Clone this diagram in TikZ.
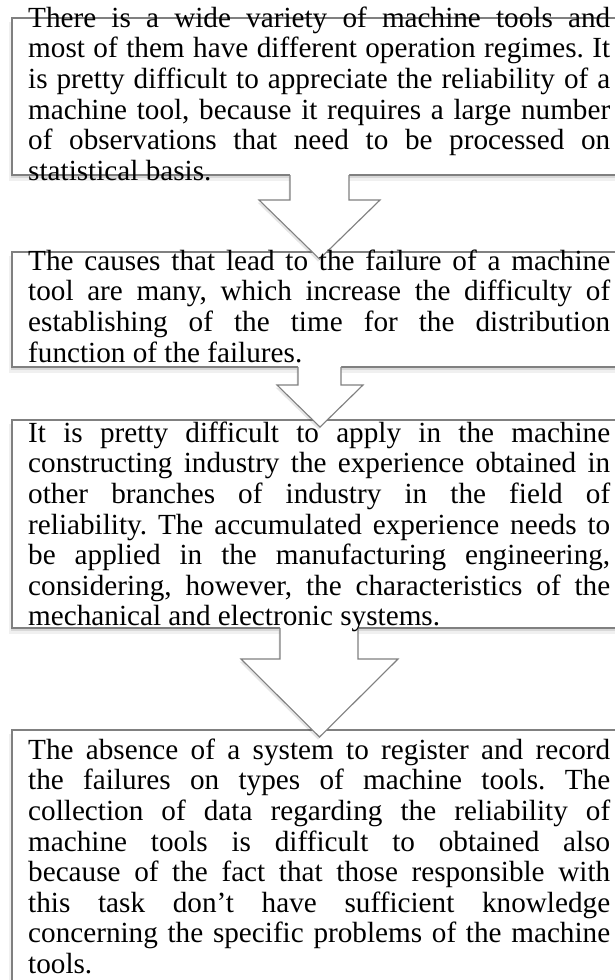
\documentclass[tikz,border=0pt]{standalone}
\usepackage{fontspec}
\setmainfont{Liberation Serif}[Ligatures=CommonOff]
\definecolor{edge}{RGB}{128,128,128}
\tikzset{
  boxline/.style={draw=edge, line width=1.1pt},
  txt/.style={anchor=north west, inner sep=0pt, text width=582pt, align=justify,
    font=\fontsize{29.2pt}{30.6pt}\selectfont},
}
\newcommand\settext{\frenchspacing\hyphenpenalty=10000\exhyphenpenalty=10000\tolerance=10000\strut}
\begin{document}
\begin{tikzpicture}[x=1pt,y=-1pt]
\useasboundingbox (0,0) rectangle (615,980);
\clip (0,0) rectangle (615,980);

% boxes (open to the right, beyond the page)
\foreach \t/\b in {18/175, 252/367, 420/628, 730/1000} {
  \fill[black,opacity=.06] (9,\t+3.5) rectangle (650,\b+5.5);
  \fill[black,opacity=.10] (10.5,\t+2) rectangle (650,\b+3);
  \fill[white] (12,\t) rectangle (650,\b);
  \draw[boxline] (12,\t) rectangle (650,\b);
}

% block arrows
\foreach \tp/\sh/\tip/\sl/\sr/\hl/\hr/\tx in {
   175/200/259/290/349/259/380/319.5,
   367/385/427/298/341/277/363/320,
   628/659/737/280/358/241/398/319.5} {
  \begin{scope}[shift={(-1.5,2.5)}]
    \fill[black,opacity=.10] (\sl,\tp) -- (\sl,\sh) -- (\hl,\sh) -- (\tx,\tip) -- (\hr,\sh) -- (\sr,\sh) -- (\sr,\tp) -- cycle;
  \end{scope}
  \fill[white] (\sl,\tp-1.5) -- (\sl,\sh) -- (\hl,\sh) -- (\tx,\tip) -- (\hr,\sh) -- (\sr,\sh) -- (\sr,\tp-1.5) -- cycle;
  \draw[boxline, line join=miter] (\sl,\tp) -- (\sl,\sh) -- (\hl,\sh) -- (\tx,\tip) -- (\hr,\sh) -- (\sr,\sh) -- (\sr,\tp);
}

% texts
\node[txt] (b1) at (28,5.58) {\settext There is a wide variety of machine tools and\linebreak
most of them have different operation regimes. It\linebreak
is pretty difficult to appreciate the reliability of a\linebreak
machine tool, because it requires a large number\linebreak
of observations that need to be processed on\linebreak
statistical basis.};

\node[txt] (b2) at (28,248.58) {\settext The causes that lead to the failure of a machine\linebreak
tool are many, which increase the difficulty of\linebreak
establishing of the time for the distribution\linebreak
function of the failures.};

\node[txt] (b3) at (28,420.58) {\settext It is pretty difficult to apply in the machine\linebreak
constructing industry the experience obtained in\linebreak
other branches of industry in the field of\linebreak
reliability. The accumulated experience needs to\linebreak
be applied in the manufacturing engineering,\linebreak
considering, however, the characteristics of the\linebreak
mechanical and electronic systems.};

\node[txt] (b4) at (28,737.58) {\settext The absence of a system to register and record\linebreak
the failures on types of machine tools. The\linebreak
collection of data regarding the reliability of\linebreak
machine tools is difficult to obtained also\linebreak
because of the fact that those responsible with\linebreak
this task don’t have sufficient knowledge\linebreak
concerning the specific problems of the machine\linebreak
tools.};
\end{tikzpicture}
\end{document}
